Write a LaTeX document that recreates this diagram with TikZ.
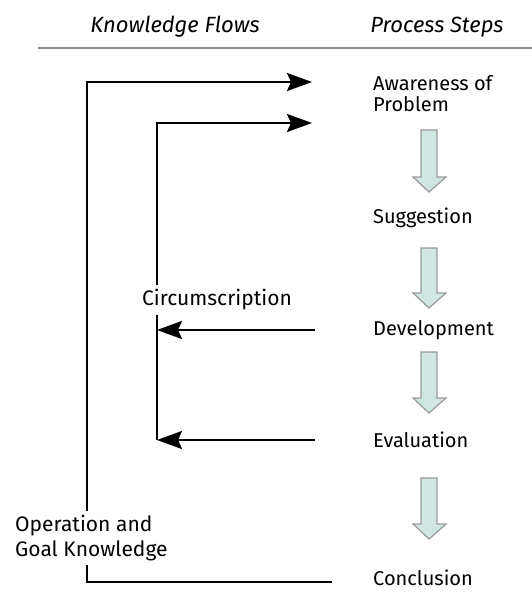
\documentclass[tikz,border=0pt]{standalone}
\usepackage{fontspec}
\setmainfont{Fira Sans}
\usetikzlibrary{arrows.meta, positioning, calc}

\definecolor{stepfill}{RGB}{208,230,226}

\begin{document}
\begin{tikzpicture}[
				x=1pt, y=-1pt,
				font=\fontsize{20}{24}\selectfont,
				>={Stealth[length=25pt, width=18pt, inset=4pt]},
				head/.style={font=\fontsize{22}{26}\selectfont\itshape},
				stepname/.style={anchor=west, align=left, inner sep=2pt},
				label/.style={align=left, inner sep=4pt, font=\fontsize{21}{26}\selectfont},
				flow/.style={line width=2.4pt, black},
				blk/.style={draw=black!40, line width=1.2pt, fill=stepfill, line join=miter}
				]
				\useasboundingbox (0,0) rectangle (532,592);
				
				%--- column heads ----------------------------------------------------------
				\node[head] (hflow) at (175,27) {Knowledge Flows};
				\node[head] (hstep) at (437,27) {Process Steps};
				\draw[black!45, line width=1.6pt] (38,48) -- (532,48);
				
				%--- process steps ---------------------------------------------------------
				\node[stepname] (aware) at (371,94) {Awareness of\\[-3pt]Problem};
				\node[stepname] (sugg) at (371,218) {Suggestion};
				\node[stepname] (dev)  at (371,330) {Development};
				\node[stepname] (eval) at (371,440) {Evaluation};
				\node[stepname] (conc) at (371,578) {Conclusion};
				
				%--- block arrows between the steps ---------------------------------------
				\foreach \top/\len in {130/62, 248/60, 352/61, 478/61}
				\draw[blk] (421,\top) -- (437,\top) -- (437,\top+\len-15) -- (446,\top+\len-15)
				-- (429,\top+\len) -- (413,\top+\len-15) -- (421,\top+\len-15) -- cycle;
				
				%--- flow labels -----------------------------------------------------------
				\node[label] (circ) at (217,300) {Circumscription};
				\node[label, anchor=west] (opk) at (11,538) {Operation and\\[-1pt]Goal Knowledge};
				
				\coordinate (outer) at (87,0);
				\coordinate (inner) at (157,0);
				\coordinate (kin1) at ($(aware.west)+(-59,-12)$);
				\coordinate (kin2) at ($(aware.west)+(-59,29)$);
				
				%--- circumscription loop --------------------------------------------------
				\draw[flow,->] ($(dev.west)+(-56,0)$) -- (dev.west -| inner);
				\draw[flow,->] ($(eval.west)+(-56,0)$) -- (eval.west -| inner);
				\draw[flow] (circ.south -| inner) -- (eval.west -| inner);
				\draw[flow,->] (circ.north -| inner) |- (kin2);
				
				%--- operation and goal knowledge ------------------------------------------
				\draw[flow] ($(conc.west)+(-39,4)$) -| (opk.south -| outer);
				\draw[flow,->] (opk.north -| outer) |- (kin1);
			\end{tikzpicture}
\end{document}
